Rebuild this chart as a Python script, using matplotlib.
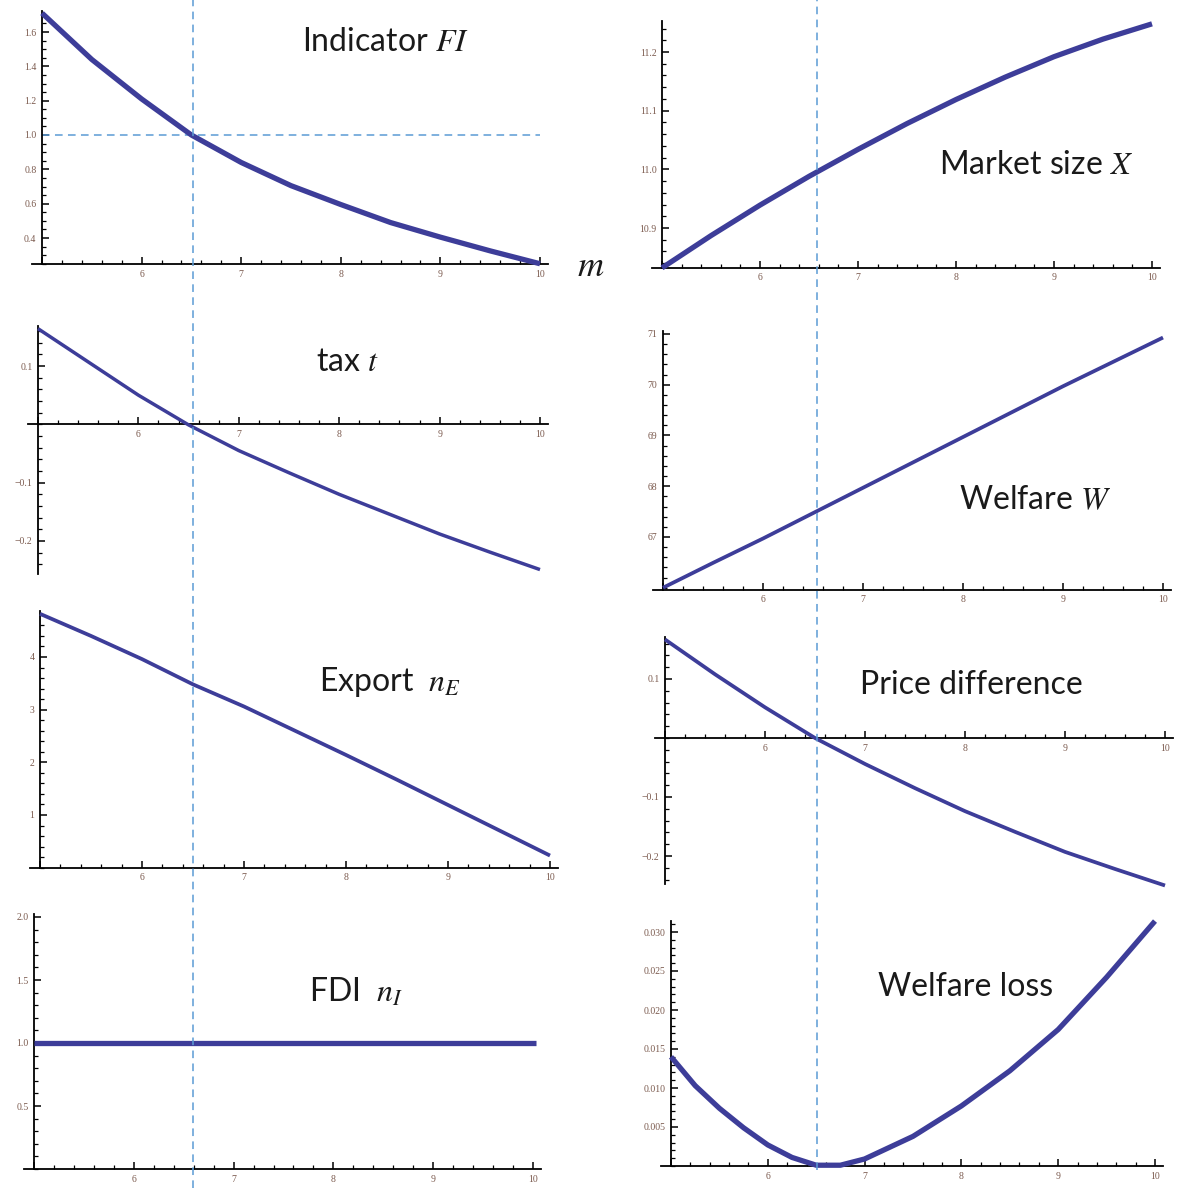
import matplotlib
matplotlib.use('Agg')
import matplotlib.pyplot as plt
import matplotlib.transforms as mtrans
from matplotlib.lines import Line2D
from matplotlib.ticker import FixedLocator, FixedFormatter, MultipleLocator

# ---------------- data ----------------
m_grid = [5, 5.5, 6, 6.5, 7, 7.5, 8, 8.5, 9, 9.5, 10]
m_star = 6.52

fi_values = [1.71, 1.44, 1.21, 1.00, 0.84, 0.705, 0.595, 0.49, 0.405, 0.325, 0.25]
market_values = [10.832, 10.887, 10.939, 10.988, 11.034, 11.078, 11.119, 11.157, 11.192, 11.222, 11.248]
tax_values = [0.164, 0.107, 0.050, -0.001, -0.045, -0.083, -0.120, -0.154, -0.188, -0.219, -0.249]
welfare_values = [66.0, 66.49, 66.97, 67.47, 67.97, 68.47, 68.97, 69.47, 69.97, 70.45, 70.93]
export_values = [4.82, 4.40, 3.96, 3.48, 3.06, 2.60, 2.14, 1.67, 1.19, 0.71, 0.23]
price_values = [0.167, 0.108, 0.052, 0.0, -0.044, -0.085, -0.124, -0.159, -0.193, -0.222, -0.250]
fdi_m = [5, 10.03]
fdi_values = [1.0, 1.0]
loss_m = [5, 5.25, 5.5, 5.75, 6, 6.25, 6.5, 6.75, 7, 7.5, 8, 8.5, 9, 9.5, 10]
loss_values = [0.0140, 0.0103, 0.0074, 0.0049, 0.0027, 0.0011, 0.0001, 0.0001, 0.0009,
               0.0038, 0.0077, 0.0122, 0.0175, 0.0242, 0.0314]

x_ticks = [5, 6, 7, 8, 9, 10]
x_tick_labels = ['', '6', '7', '8', '9', '10']

fi_ticks = [0.4, 0.6, 0.8, 1.0, 1.2, 1.4, 1.6]
fi_labels = ['0.4', '0.6', '0.8', '1.0', '1.2', '1.4', '1.6']
market_ticks = [10.9, 11.0, 11.1, 11.2]
market_labels = ['10.9', '11.0', '11.1', '11.2']
tax_ticks = [-0.2, -0.1, 0.1]
tax_labels = ['\u22120.2', '\u22120.1', '0.1']
welfare_ticks = [67, 68, 69, 70, 71]
welfare_labels = ['67', '68', '69', '70', '71']
export_ticks = [1, 2, 3, 4]
export_labels = ['1', '2', '3', '4']
price_ticks = [-0.2, -0.1, 0.1]
price_labels = ['\u22120.2', '\u22120.1', '0.1']
fdi_ticks = [0.5, 1.0, 1.5, 2.0]
fdi_labels = ['0.5', '1.0', '1.5', '2.0']
loss_ticks = [0.005, 0.010, 0.015, 0.020, 0.025, 0.030]
loss_labels = ['0.005', '0.010', '0.015', '0.020', '0.025', '0.030']

# ---------------- figure ----------------
W, H = 1177, 1188
plt.rcParams['mathtext.fontset'] = 'stix'
plt.rcParams['font.family'] = ['Liberation Serif', 'DejaVu Serif']
fig = plt.figure(figsize=(W / 100, H / 100), dpi=100)

CURVE = '#3d3d99'
DASH = '#5b9bd5'
TICKCOL = '#7b5a4e'


def make_axes(x5, x10, ya_px, ya_val, yb_px, yb_val, ylo, yhi, xlo=4.9, xhi=10.08):
    sx = (x10 - x5) / 5.0
    sy = (yb_px - ya_px) / (ya_val - yb_val)
    left = x5 + (xlo - 5) * sx
    right = x5 + (xhi - 5) * sx
    top = ya_px - (yhi - ya_val) * sy
    bottom = ya_px + (ya_val - ylo) * sy
    ax = fig.add_axes([left / W, 1 - bottom / H, (right - left) / W, (bottom - top) / H])
    ax.set_xlim(xlo, xhi)
    ax.set_ylim(ylo, yhi)
    ax.patch.set_alpha(0)
    return ax


def style(ax, xaxis_at, yticks, ylabels, yminor):
    for s in ('top', 'right'):
        ax.spines[s].set_visible(False)
    ax.spines['left'].set_position(('data', 5))
    ax.spines['bottom'].set_position(('data', xaxis_at))
    for s in ('left', 'bottom'):
        ax.spines[s].set_linewidth(1.3)
    ax.xaxis.set_major_locator(FixedLocator(x_ticks))
    ax.xaxis.set_major_formatter(FixedFormatter(x_tick_labels))
    ax.xaxis.set_minor_locator(MultipleLocator(0.2))
    ax.yaxis.set_major_locator(FixedLocator(yticks))
    ax.yaxis.set_major_formatter(FixedFormatter(ylabels))
    ax.yaxis.set_minor_locator(MultipleLocator(yminor))
    ax.tick_params(which='major', direction='in', length=5, width=1.1,
                   labelsize=7, labelcolor=TICKCOL, pad=4)
    ax.tick_params(which='minor', direction='in', length=2.8, width=0.9)


def curve(ax, xs, ys, lw):
    ax.plot(xs, ys, color=CURVE, lw=lw, clip_on=False, solid_capstyle='butt',
            solid_joinstyle='round', zorder=3)


def title(x, y, s, size=23):
    fig.text(x / W, 1 - y / H, s, ha='center', va='center', fontsize=size,
             family=['Lato', 'DejaVu Sans'], color='#1a1a1a')


# Panel 1: Indicator FI
ax1 = make_axes(42, 540, 135, 1.0, 238, 0.4, 0.247, 1.72)
style(ax1, 0.247, fi_ticks, fi_labels, 0.05)
curve(ax1, m_grid, fi_values, 3.8)
ax1.plot([5, 10], [1.0, 1.0], color=DASH, lw=1.1, dashes=(5, 3.5), zorder=2)

# Panel 2: Market size X
ax2 = make_axes(662, 1152, 52, 11.2, 228, 10.9, 10.832, 11.252)
style(ax2, 10.832, market_ticks, market_labels, 0.02)
curve(ax2, m_grid, market_values, 3.8)

# Panel 3: tax t
ax3 = make_axes(38, 540, 366, 0.1, 541, -0.2, -0.256, 0.168)
style(ax3, 0.0, tax_ticks, tax_labels, 0.02)
curve(ax3, m_grid, tax_values, 2.5)

# Panel 4: Welfare W
ax4 = make_axes(663, 1163, 334, 71, 537, 67, 65.96, 71.05)
style(ax4, 65.96, welfare_ticks, welfare_labels, 0.2)
curve(ax4, m_grid, welfare_values, 2.7)

# Panel 5: Export n_E
ax5 = make_axes(40, 550, 657, 4, 815, 1, 0.0, 4.87)
style(ax5, 0.0, export_ticks, export_labels, 0.2)
curve(ax5, m_grid, export_values, 2.7)

# Panel 6: Price difference
ax6 = make_axes(665, 1165, 679, 0.1, 856, -0.2, -0.247, 0.172)
style(ax6, 0.0, price_ticks, price_labels, 0.02)
curve(ax6, m_grid, price_values, 2.7)

# Panel 7: FDI n_I
ax7 = make_axes(34, 533, 917, 2.0, 1106, 0.5, 0.0, 2.02)
style(ax7, 0.0, fdi_ticks, fdi_labels, 0.1)
curve(ax7, fdi_m, fdi_values, 3.8)

# Panel 8: Welfare loss
ax8 = make_axes(671, 1155, 932, 0.030, 1127, 0.005, 0.0, 0.0314)
style(ax8, 0.0, loss_ticks, loss_labels, 0.001)
curve(ax8, loss_m, loss_values, 3.8)

# vertical dashed reference lines at m*
tl = mtrans.blended_transform_factory(ax1.transData, fig.transFigure)
fig.add_artist(Line2D([m_star, m_star], [0, 1], transform=tl, color=DASH,
                      lw=1.1, dashes=(5, 3.5), zorder=5))
tr = mtrans.blended_transform_factory(ax6.transData, fig.transFigure)
fig.add_artist(Line2D([m_star, m_star], [1 - 1170 / H, 1], transform=tr, color=DASH,
                      lw=1.1, dashes=(5, 3.5), zorder=5))

# titles
title(385, 42, 'Indicator $FI$')
title(1036, 165, 'Market size $X$')
title(347, 362, 'tax $t$')
title(1035, 500, 'Welfare $W$')
title(390, 682, 'Export  $n_E$')
title(971, 685, 'Price difference')
title(356, 992, 'FDI  $n_I$')
title(966, 987, 'Welfare loss')
fig.text(591 / W, 1 - 268 / H, '$m$', ha='center', va='center', fontsize=26, color='#1a1a1a')

fig.savefig('out.png', dpi=100)
